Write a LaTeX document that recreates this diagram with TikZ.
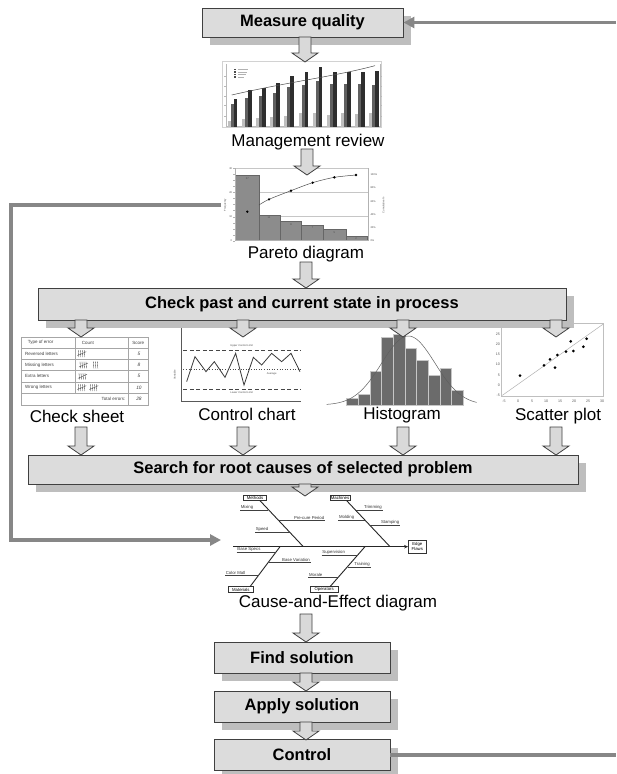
\documentclass[tikz,border=0pt]{standalone}
\usepackage{fontspec}
\setmainfont{Liberation Sans}
\usetikzlibrary{shadows,arrows.meta,calc}
\definecolor{boxfill}{HTML}{DCDCDC}
\definecolor{boxline}{HTML}{404040}
\definecolor{shadowc}{HTML}{BEBEBE}
\definecolor{loopc}{HTML}{878787}
\definecolor{arrfill}{HTML}{D9D9D9}
\newcommand\blkarrow[2]{\path[barrow] let \p1=(#1), \p2=(#2) in (\x1-6pt,\y1) -- (\x1+6pt,\y1) -- (\x1+6pt,\y2+9pt) -- (\x1+13pt,\y2+9pt) -- (\x1,\y2) -- (\x1-13pt,\y2+9pt) -- (\x1-6pt,\y2+9pt) -- cycle;}
\newcommand\tallyfive[2]{\foreach \k in {0,1,2,3}{\draw[tallyline] ({#1+6*\k},{#2-10}) -- ({#1+6*\k+1.5},{#2+10});}\draw[tallyline] ({#1-3},{#2+6}) -- ({#1+24},{#2-6});}
\newcommand\tallyone[2]{\draw[tallyline] ({#1},{#2-10}) -- ({#1+1.5},{#2+10});}
\begin{document}
\begin{tikzpicture}[x=1pt,y=-1pt,
  stepbox/.style={draw=boxline, line width=0.9pt, fill=boxfill, inner sep=0pt,
    font=\fontsize{16.5}{18}\selectfont\bfseries,
    drop shadow={shadow xshift=8pt, shadow yshift=-8pt, fill=shadowc, opacity=1}},
  caption/.style={font=\fontsize{17}{19}\selectfont, inner sep=0pt},
  loopline/.style={draw=loopc, line width=3.5pt, line join=miter},
  looptip/.style={-{Triangle[length=11pt,width=11pt]}},
  barrow/.style={draw=boxline, fill=arrfill, line width=0.8pt, line join=miter},
  tinyt/.style={font=\fontsize{2.6}{3}\selectfont, text=black!70, inner sep=0.3pt},
  axnum/.style={font=\fontsize{3.6}{4}\selectfont, text=black!65, inner sep=0.3pt},
  tallyline/.style={black!75, line width=0.35pt},
  cstxt/.style={font=\fontsize{4.5}{5}\selectfont, text=black!75, inner sep=0pt},
  csnum/.style={font=\fontsize{4.8}{5}\selectfont\itshape, text=black!75, inner sep=0pt},
  fbtxt/.style={font=\fontsize{4.3}{4.8}\selectfont, text=black!80, inner sep=0.6pt},
  fbline/.style={black!75, line width=0.45pt},
  fbbone/.style={black!85, line width=0.9pt},
  fbbox/.style={draw=black!80, line width=0.5pt, fill=white, font=\fontsize{4.3}{4.8}\selectfont, inner sep=0pt}]
\useasboundingbox (0,0) rectangle (616,774);
\fill[white] (0,0) rectangle (616,774);

% ---------------- Management review chart
\begin{scope}[shift={(180,0)}, scale=1/3]
  \draw[gray!35, line width=0.4pt] (128,185) rectangle (605,382);
  \draw[gray!55, line width=0.4pt] (140,192) -- (140,380) -- (600,380) -- (600,192);
  \foreach \yy in {228,258,290,315,350} {\draw[gray!55,line width=0.4pt] (600,\yy) -- (607,\yy); \draw[gray!55,line width=0.4pt] (133,\yy) -- (140,\yy);}
  \foreach \i/\l/\m/\d in {0/363/313/296, 1/357/293/270, 2/353/289/263, 3/352/280/250, 4/347/260/228, 5/340/255/217, 6/340/242/200, 7/345/253/217, 8/340/253/217, 9/343/253/215, 10/340/255/213} {
    \pgfmathsetmacro\gx{143+42.5*\i}
    \fill[gray!50] (\gx,380) rectangle ({\gx+9},\l);
    \fill[gray!75!black!100] ({\gx+9},380) rectangle ({\gx+18},\m);
    \fill[black!82] ({\gx+18},380) rectangle ({\gx+29},\d);
  }
  \draw[gray!60!black, line width=0.5pt] (155,285) .. controls (330,245) and (470,228) .. (585,197);
  \foreach \k in {0,1,2,3} {
    \fill[black!70] (163,{206+7.5*\k}) rectangle (169,{211+7.5*\k});
    \draw[gray!60, line width=0.3pt] (175,{208.5+7.5*\k}) -- ({205-4*\k},{208.5+7.5*\k});
  }
\end{scope}

% ---------------- Pareto diagram
\begin{scope}[shift={(190,150)}, scale=1/3]
  \foreach \yy in {55,128,200} {\draw[gray!45, line width=0.4pt] (135,\yy) -- (535,\yy);}
  \foreach \a/\b/\t in {135/207/77, 207/270/195, 270/335/215, 335/400/225, 400/468/238, 468/532/260} {
    \draw[fill=black!45, draw=black!60, line width=0.4pt] (\a,272) rectangle (\b,\t);
  }
  \draw[gray!60, line width=0.4pt] (135,55) -- (135,272) -- (535,272) -- (535,55);
  \foreach \yy in {55,73,91,109,127,145,163,181,200,218,236,254,272} {\draw[gray!60, line width=0.3pt] (130,\yy) -- (135,\yy);}
  \foreach \v/\yy in {30/55, 20/128, 10/200, 0/272} {\node[tinyt, anchor=east] at (128,\yy) {\v};}
  \foreach \v/\yy in {100/75, 80/114, 60/154, 40/193, 20/233, 0/272} {\node[tinyt, anchor=west] at (540,\yy) {\v\%};}
  \node[tinyt, rotate=90] at (106,165) {Frequency};
  \node[tinyt, rotate=90] at (580,165) {Cumulative \%};
  \foreach \v/\xx/\yy in {27/172/86, 11/237/204, 8/303/224, 7/368/234, 5/433/247, 2/498/266} {\node[tinyt] at (\xx,\yy) {\v};}
  \draw[gray!60!black, line width=0.5pt] plot[smooth] coordinates {(207,165) (237,148) (303,122) (368,98) (433,82) (498,75)};
  \foreach \xx/\yy in {172/185, 237/148, 303/122, 368/98, 433/82, 498/75} {\fill[black] (\xx,\yy) circle (4);}
\end{scope}

% ---------------- Check sheet
\begin{scope}[shift={(15,320)}, scale=1/3]
  \draw[gray!70, line width=0.4pt] (18,52) rectangle (400,255);
  \foreach \yy in {85,118,152,186,220} {\draw[gray!70,line width=0.4pt] (18,\yy) -- (400,\yy);}
  \draw[gray!70,line width=0.4pt] (182,52) -- (182,220);
  \draw[gray!70,line width=0.4pt] (340,52) -- (340,255);
  \node[cstxt, anchor=west] at (38,68) {Type of error};
  \node[cstxt, anchor=west] at (200,68) {Count};
  \node[cstxt] at (370,68) {Score};
  \node[cstxt, anchor=west] at (30,101) {Reversed letters};
  \node[cstxt, anchor=west] at (30,135) {Missing letters};
  \node[cstxt, anchor=west] at (30,169) {Extra letters};
  \node[cstxt, anchor=west] at (30,203) {Wrong letters};
  \node[cstxt, anchor=east] at (332,237) {Total errors:};
  \node[csnum] at (372,101) {5};
  \node[csnum] at (372,135) {8};
  \node[csnum] at (372,169) {5};
  \node[csnum] at (372,203) {10};
  \node[csnum] at (372,237) {28};
  \tallyfive{190}{101}
  \tallyfive{195}{135}
  \tallyone{235}{135}\tallyone{241}{135}\tallyone{247}{135}
  \tallyfive{192}{169}
  \tallyfive{190}{203}
  \tallyfive{226}{203}
\end{scope}

% ---------------- Control chart
\begin{scope}[shift={(170,320)}, scale=1/3]
  \draw[gray!70!black, line width=0.5pt] (35,25) -- (35,245) -- (392,245);
  \draw[gray!55!black, line width=1pt, dash pattern=on 4pt off 2.5pt] (40,90) -- (392,90);
  \draw[gray!55!black, line width=1pt, dash pattern=on 4pt off 2.5pt] (40,207) -- (392,207);
  \draw[gray!60!black, line width=0.6pt, dotted] (40,148) -- (392,148);
  \draw[gray!45!black, line width=0.8pt] (50,185) -- (75,110) -- (108,155) -- (133,125) -- (165,172) -- (197,100) -- (222,195) -- (250,112) -- (275,135) -- (305,100) -- (335,125) -- (363,100) -- (390,155);
  \node[tinyt] at (215,77) {Upper Control Limit};
  \node[tinyt] at (305,163) {Average};
  \node[tinyt] at (215,218) {Lower Control Limit};
  \node[tinyt, rotate=90] at (14,165) {Variable};
\end{scope}

% ---------------- Histogram
\begin{scope}[shift={(320,320)}, scale=1/3]
  \foreach \a/\t in {80/235,115/222,150/155,185/52,220/43,255/85,290/120,325/165,360/145,395/212} {
    \draw[draw=gray!45, fill=black!58, line width=0.4pt] (\a,255) rectangle ({\a+35},\t);
  }
  \draw[gray!75!black, line width=0.5pt] plot[domain=20:470, samples=90, smooth] (\x,{255-207*exp(-((\x-265)/80)^2/2)});
\end{scope}

% ---------------- Scatter plot
\begin{scope}[shift={(470,310)}, scale=1/3]
  \draw[gray!50, line width=0.4pt] (95,40) rectangle (400,258);
  \foreach \v [count=\n from 0] in {-5,0,5,10,15,20,25,30} {
    \pgfmathsetmacro\yy{255-30.3*\n}
    \pgfmathsetmacro\xx{102+42.1*\n}
    \node[axnum, anchor=east] at (91,\yy) {\v};
    \node[axnum] at (\xx,273) {\v};
  }
  \draw[gray!60, line width=0.5pt] (97,256) -- (400,42);
  \foreach \xx/\yy in {150/197, 222/166, 240/148, 255/173, 262/135, 288/125, 302/94, 310/123, 340/110, 350/86} {\fill[black] (\xx,\yy) circle (4.5);}
\end{scope}

% ---------------- Cause-and-Effect diagram
\begin{scope}[shift={(200,480)}, scale=1/3]
  \node[fbbox, minimum width=18pt, minimum height=13pt, align=center] (effect) at (652,200) {Edge\\Flaws};
  \coordinate (spineL) at (100,200);
  \draw[black!85, line width=1.2pt, -{Stealth[length=4pt,width=3.5pt]}] (spineL) -- (effect.west);
  \node[fbbox, minimum width=23pt, minimum height=5.8pt] (methods) at (165,53.5) {Methods};
  \node[fbbox, minimum width=20pt, minimum height=5.8pt] (machines) at (420,53.5) {Machines};
  \node[fbbox, minimum width=25pt, minimum height=6pt] (materials) at (122.5,329) {Materials};
  \node[fbbox, minimum width=28pt, minimum height=6pt] (operators) at (372.5,329) {Operators};
  \draw[fbbone] (180,62) -- (310,200);
  \draw[fbbone] (440,62) -- (570,200);
  \draw[fbbone] (240,200) -- (150,320);
  \draw[fbbone] (495,200) -- (390,320);
  \draw[fbline] (120,90) -- (205,90);  \node[fbtxt, anchor=south west] at (120,90) {Mixing};
  \draw[fbline] (233,120) -- (375,120); \node[fbtxt, anchor=south east] at (375,120) {Pre-cure Period};
  \draw[fbline] (165,158) -- (270,158); \node[fbtxt, anchor=south west] at (165,158) {Speed};
  \draw[fbline] (465,90) -- (548,90); \node[fbtxt, anchor=south east] at (548,90) {Trimming};
  \draw[fbline] (415,120) -- (494,120); \node[fbtxt, anchor=south west] at (415,120) {Molding};
  \draw[fbline] (509,137) -- (600,137); \node[fbtxt, anchor=south east] at (600,137) {Stamping};
  \draw[fbline] (110,218) -- (226,218); \node[fbtxt, anchor=south west] at (110,218) {Base Specs};
  \draw[fbline] (206,246) -- (332,246); \node[fbtxt, anchor=south east] at (332,246) {Base Variation};
  \draw[fbline] (75,286) -- (176,286); \node[fbtxt, anchor=south west] at (75,286) {Color Matl};
  \draw[fbline] (365,225) -- (473,225); \node[fbtxt, anchor=south west] at (365,225) {Supervision};
  \draw[fbline] (443,261) -- (512,261); \node[fbtxt, anchor=south east] at (512,261) {Training};
  \draw[fbline] (325,293) -- (414,293); \node[fbtxt, anchor=south west] at (325,293) {Morale};
\end{scope}

% ---------------- captions
\node[caption] (mgmtlbl) at (308,142) {Management review};
\node[caption] (parlbl) at (306,254) {Pareto diagram};
\node[caption] (cslbl) at (77,416) {Check sheet};
\node[caption] (cclbl) at (247,414) {Control chart};
\node[caption] (hlbl) at (402,415) {Histogram};
\node[caption] (splbl) at (558,416) {Scatter plot};
\node[caption] (celbl) at (338,603) {Cause-and-Effect diagram};

% ---------------- process boxes
\node[stepbox, minimum width=201pt, minimum height=29pt] (mq) at (302.5,22.5) {Measure quality};
\node[stepbox, minimum width=528pt, minimum height=32pt] (chk) at (302,304) {Check past and current state in process};
\node[stepbox, minimum width=550pt, minimum height=29pt] (srch) at (303,469.5) {Search for root causes of selected problem};
\node[stepbox, minimum width=176pt, minimum height=31pt] (find) at (302,657.5) {Find solution};
\node[stepbox, minimum width=176pt, minimum height=31pt] (apply) at (302,706.5) {Apply solution};
\node[stepbox, minimum width=176pt, minimum height=31pt] (ctrl) at (302,755) {Control};

% ---------------- block arrows
\coordinate (a1s) at (305,37);  \coordinate (a1e) at (305,62);
\coordinate (a2s) at (307,149); \coordinate (a2e) at (307,175);
\coordinate (a3s) at (306,262); \coordinate (a3e) at (306,288);
\blkarrow{a1s}{a1e}
\blkarrow{a2s}{a2e}
\blkarrow{a3s}{a3e}
\coordinate (bas) at (81,320);  \coordinate (bae) at (81,337);
\coordinate (bbs) at (243,320); \coordinate (bbe) at (243,337);
\coordinate (bcs) at (403,320); \coordinate (bce) at (403,337);
\coordinate (bds) at (556,320); \coordinate (bde) at (556,337);
\coordinate (cas) at (81,427);  \coordinate (cae) at (81,455);
\coordinate (cbs) at (243,427); \coordinate (cbe) at (243,455);
\coordinate (ccs) at (403,427); \coordinate (cce) at (403,455);
\coordinate (cds) at (556,427); \coordinate (cde) at (556,455);
\blkarrow{bas}{bae}
\blkarrow{bbs}{bbe}
\blkarrow{bcs}{bce}
\blkarrow{bds}{bde}
\blkarrow{cas}{cae}
\blkarrow{cbs}{cbe}
\blkarrow{ccs}{cce}
\blkarrow{cds}{cde}
\coordinate (d1s) at (305,484); \coordinate (d1e) at (305,496);
\blkarrow{d1s}{d1e}
\coordinate (e1s) at (306,614); \coordinate (e1e) at (306,642);
\coordinate (e2s) at (306,673); \coordinate (e2e) at (306,691);
\coordinate (e3s) at (306,722); \coordinate (e3e) at (306,740);
\blkarrow{e1s}{e1e}
\blkarrow{e2s}{e2e}
\blkarrow{e3s}{e3e}

% ---------------- feedback lines
\coordinate (rt) at (616,22.5);
\coordinate (rb) at (616,755);
\draw[loopline, looptip] (rt) -- (mq.east);
\draw[loopline] (ctrl.east) -- (rb);
\coordinate (parL) at (221,205);
\coordinate (lcorner) at (11,205);
\coordinate (fishL) at (221,540);
\draw[loopline, looptip] (parL) -- (lcorner) |- (fishL);
\end{tikzpicture}
\end{document}
